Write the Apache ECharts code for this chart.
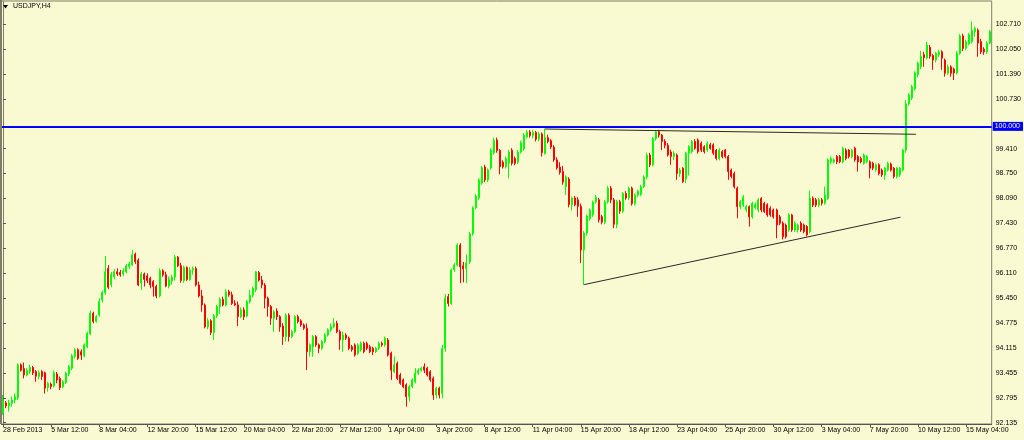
<!DOCTYPE html>
<html>
<head>
<meta charset="utf-8">
<script src="https://cdn.jsdelivr.net/npm/echarts@6/dist/echarts.min.js"></script>
<style>
html,body{margin:0;padding:0;background:#FAFAD2;}
#chart{width:1024px;height:440px;}
</style>
</head>
<body>
<div id="chart"></div>
<script>
// USDJPY H4 candles: [open, close, low, high]
const candles = [
[92.40,92.69,92.34,92.87],[92.66,92.58,92.52,92.71],[92.58,92.65,92.43,92.74],[92.65,92.74,92.56,92.83],[92.74,92.83,92.65,92.91],
[92.80,93.67,92.74,93.71],[93.67,93.53,93.49,93.71],[93.57,93.40,93.31,93.73],[93.40,93.52,93.36,93.58],[93.49,93.60,93.43,93.67],
[93.60,93.46,93.40,93.64],[93.49,93.37,93.22,93.53],[93.36,93.46,93.29,93.52],[93.49,93.36,93.27,93.53],[93.46,93.05,92.91,93.49],
[93.07,93.18,92.96,93.22],[93.16,93.09,93.02,93.20],[93.11,93.46,93.07,93.52],[93.43,93.27,93.18,93.48],[93.31,93.07,93.00,93.36],
[93.09,93.22,93.05,93.27],[93.20,93.45,93.16,93.49],[93.43,93.62,93.37,93.67],[93.58,93.91,93.53,93.96],[93.89,94.07,93.84,94.11],
[94.07,93.84,93.80,94.11],[94.02,93.93,93.80,94.08],[93.91,94.20,93.87,94.24],[94.15,94.51,94.11,94.55],[94.49,95.04,94.46,95.11],
[95.04,94.82,94.77,95.08],[94.82,94.95,94.79,94.99],[94.99,95.35,94.95,95.44],[95.39,95.59,95.32,95.64],[95.59,96.14,95.53,96.56],
[96.23,95.73,95.68,96.32],[95.79,96.08,95.73,96.14],[96.01,96.14,95.94,96.21],[96.14,96.08,96.03,96.23],[96.12,96.06,96.01,96.19],
[96.08,96.17,96.03,96.23],[96.14,96.30,96.10,96.35],[96.28,96.35,96.21,96.41],[96.32,96.59,96.30,96.72],[96.61,96.41,96.35,96.65],
[96.45,95.79,95.76,96.50],[95.84,96.08,95.66,96.14],[96.08,95.94,95.75,96.12],[96.03,95.91,95.84,96.10],[95.97,95.79,95.70,96.01],
[95.88,95.75,95.48,95.92],[95.75,95.50,95.44,95.80],[95.50,96.17,95.46,96.23],[96.17,96.06,96.01,96.21],[96.06,95.76,95.73,96.14],
[95.76,95.94,95.70,96.01],[95.90,96.00,95.80,96.06],[96.00,96.53,95.91,96.59],[96.53,96.30,96.26,96.56],[96.30,95.91,95.85,96.38],
[95.91,96.26,95.85,96.30],[96.26,95.94,95.90,96.28],[95.94,96.19,95.90,96.26],[96.19,96.23,96.06,96.28],[96.23,95.79,95.75,96.28],
[95.79,95.50,95.46,95.88],[95.50,95.26,95.08,95.66],[95.26,94.68,94.64,95.30],[94.68,94.84,94.62,94.91],[94.84,94.53,94.46,94.88],
[94.53,94.97,94.33,95.02],[94.97,95.22,94.91,95.26],[95.22,95.41,95.02,95.46],[95.41,95.26,95.22,95.48],[95.26,95.61,95.22,95.68],
[95.61,95.53,95.48,95.66],[95.53,95.30,95.26,95.61],[95.30,95.26,95.23,95.39],[95.26,94.95,94.70,95.35],[94.95,95.13,94.91,95.20],
[95.13,94.95,94.86,95.20],[94.97,95.35,94.93,95.39],[95.35,95.52,95.30,95.66],[95.52,95.70,95.46,95.75],[95.66,96.14,95.60,96.16],
[96.12,95.92,95.88,96.16],[95.92,95.79,95.70,96.03],[95.79,95.44,95.17,95.84],[95.44,95.22,94.95,95.48],[95.22,94.91,94.73,95.26],
[94.91,95.08,94.55,95.13],[95.10,94.95,94.86,95.17],[94.95,94.68,94.55,94.99],[94.70,94.42,94.20,94.78],[94.42,94.99,94.29,95.04],
[94.99,94.42,94.29,95.04],[94.42,94.55,94.38,94.60],[94.55,94.95,94.51,94.99],[94.95,94.82,94.77,95.00],[94.84,94.73,94.68,94.88],
[94.73,94.64,94.60,94.77],[94.64,94.02,93.53,94.77],[94.02,94.20,93.89,94.24],[94.15,94.42,93.89,94.46],[94.42,94.20,94.15,94.46],
[94.20,94.11,93.98,94.24],[94.11,94.29,94.06,94.33],[94.29,94.46,94.24,94.51],[94.46,94.60,94.42,94.64],[94.60,94.68,94.55,94.77],
[94.68,94.77,94.64,94.91],[94.77,94.55,94.51,94.84],[94.55,94.33,94.07,94.60],[94.33,94.46,94.02,94.55],[94.46,94.38,94.33,94.51],
[94.38,94.11,94.06,94.42],[94.15,94.07,94.02,94.20],[94.20,93.93,93.89,94.24],[93.98,94.20,93.93,94.24],[94.07,94.24,94.02,94.29],
[94.24,94.02,93.98,94.29],[94.24,94.11,94.06,94.29],[94.15,94.02,93.98,94.20],[94.11,94.02,93.93,94.15],[94.02,94.11,93.98,94.15],
[94.11,94.24,94.07,94.29],[94.24,94.20,94.15,94.29],[94.20,94.38,94.15,94.42],[94.33,93.93,93.89,94.38],[93.98,93.53,93.27,94.02],
[93.49,93.67,93.45,93.89],[93.71,93.31,93.27,93.76],[93.40,93.18,93.14,93.45],[93.27,93.09,93.05,93.31],[93.14,92.83,92.56,93.18],
[92.83,93.09,92.69,93.14],[93.09,93.27,93.05,93.31],[93.22,93.45,93.18,93.58],[93.45,93.53,93.40,93.58],[93.53,93.58,93.49,93.62],
[93.62,93.53,93.45,93.71],[93.58,93.40,93.36,93.62],[93.49,93.27,93.22,93.53],[93.31,92.87,92.74,93.36],[92.87,93.05,92.78,93.09],
[93.05,92.87,92.78,93.09],[92.91,94.11,92.78,94.20],[94.11,95.44,94.02,95.55],[95.48,95.30,95.22,95.55],[95.30,96.19,95.26,96.23],
[96.19,96.32,96.14,96.37],[96.32,96.85,96.28,96.90],[96.85,96.27,95.84,96.90],[96.30,96.22,95.86,96.40],[96.22,96.37,95.84,96.60],
[96.40,97.15,96.35,97.20],[97.15,97.84,97.10,97.88],[97.84,98.15,97.80,98.20],[98.10,98.58,98.05,98.62],[98.50,98.90,98.45,98.95],
[98.92,98.58,98.52,98.98],[98.58,98.84,98.52,98.88],[98.90,99.37,98.85,99.42],[99.30,99.64,99.25,99.70],[99.64,99.36,99.30,99.70],
[99.36,98.93,98.73,99.40],[99.05,98.93,98.88,99.10],[98.93,99.15,98.88,99.20],[99.02,99.32,98.62,99.38],[99.37,99.02,98.96,99.42],
[99.15,99.02,98.97,99.20],[99.06,99.32,99.00,99.37],[99.32,99.56,99.28,99.62],[99.40,99.77,99.35,99.82],[99.72,99.85,99.68,99.90],
[99.85,99.76,99.70,99.90],[99.76,99.84,99.68,99.90],[99.84,99.66,99.60,99.88],[99.66,99.80,99.60,99.86],[99.80,99.30,99.20,99.84],
[99.28,99.70,99.25,99.94],[99.70,99.60,99.55,99.78],[99.62,99.45,99.40,99.66],[99.45,99.11,99.06,99.50],[99.11,98.90,98.85,99.18],
[98.92,98.78,98.72,99.05],[98.80,98.52,98.45,98.95],[98.40,98.66,98.18,98.70],[98.60,97.92,97.85,98.65],[97.92,98.10,97.77,98.14],
[98.10,97.92,97.88,98.15],[98.05,97.88,97.60,98.12],[97.88,96.72,96.37,97.95],[96.72,97.17,95.79,97.22],[97.17,97.62,97.10,97.66],
[97.55,97.78,97.50,97.82],[97.65,97.99,97.60,98.03],[97.99,98.12,97.95,98.18],[98.05,97.52,97.45,98.10],[97.60,97.46,97.40,97.65],
[97.46,98.00,97.40,98.05],[98.00,98.36,97.95,98.42],[98.36,98.05,97.96,98.42],[98.05,97.40,97.30,98.10],[97.40,98.00,97.30,98.05],
[98.00,97.75,97.68,98.05],[97.75,98.22,97.70,98.26],[98.22,98.10,98.05,98.28],[98.10,98.36,98.05,98.40],[98.36,97.95,97.90,98.40],
[97.95,98.18,97.90,98.22],[98.18,98.28,98.12,98.32],[98.20,98.40,98.15,98.45],[98.40,98.66,98.36,98.70],[98.66,99.24,98.60,99.30],
[99.24,98.98,98.92,99.30],[98.98,99.68,98.94,99.72],[99.68,99.86,99.62,99.90],[99.86,99.77,99.70,99.91],[99.77,99.60,99.37,99.80],
[99.60,99.50,99.42,99.66],[99.50,99.24,99.20,99.56],[99.32,99.20,98.98,99.38],[99.20,99.28,99.10,99.34],[99.24,98.75,98.58,99.28],
[98.75,98.84,98.66,98.90],[98.89,98.53,98.50,98.92],[98.60,99.29,98.50,99.33],[99.29,99.46,98.70,99.50],[99.33,99.60,99.28,99.64],
[99.60,99.42,99.38,99.66],[99.64,99.33,99.28,99.68],[99.55,99.37,99.32,99.60],[99.46,99.33,99.28,99.50],[99.37,99.55,99.32,99.60],
[99.51,99.42,99.38,99.56],[99.51,99.29,99.24,99.55],[99.37,99.15,99.10,99.40],[99.15,99.37,99.10,99.42],[99.33,99.20,99.15,99.37],
[99.37,99.20,99.15,99.40],[99.20,98.80,98.58,99.24],[98.84,98.67,98.62,98.88],[98.75,98.40,98.35,98.80],[98.36,97.87,97.56,98.40],
[97.87,98.00,97.80,98.05],[97.91,98.13,97.86,98.18],[97.78,97.87,97.72,97.92],[97.87,97.60,97.34,97.90],[97.60,97.96,97.55,98.00],
[97.85,97.92,97.80,97.98],[97.78,98.05,97.72,98.10],[98.09,97.78,97.72,98.12],[97.96,97.74,97.70,98.00],[97.92,97.65,97.60,97.96],
[97.83,97.65,97.60,97.88],[97.78,97.60,97.55,97.82],[97.78,97.38,97.03,97.82],[97.60,97.43,97.38,97.65],[97.43,97.07,97.00,97.48],
[97.38,97.07,97.02,97.42],[97.25,97.65,97.20,97.70],[97.65,97.25,97.20,97.68],[97.25,97.43,97.20,97.48],[97.25,97.38,97.18,97.42],
[97.43,97.25,97.20,97.48],[97.38,97.21,97.16,97.42],[97.34,97.12,97.08,97.38],[97.21,98.09,97.16,98.30],[98.09,97.91,97.86,98.14],
[98.05,97.91,97.86,98.10],[97.91,98.05,97.86,98.10],[98.05,97.96,97.90,98.10],[97.96,98.18,97.92,98.40],[98.09,99.11,98.05,99.15],
[99.06,99.15,99.00,99.20],[99.06,99.11,99.02,99.15],[99.20,99.06,99.00,99.24],[99.20,99.06,99.02,99.24],[99.06,99.42,99.02,99.46],
[99.37,99.15,99.10,99.42],[99.37,99.20,99.15,99.40],[99.20,99.37,99.15,99.40],[99.42,99.11,99.06,99.46],[99.20,99.06,98.80,99.24],
[99.15,99.06,99.02,99.20],[99.02,99.24,98.98,99.28],[99.06,99.20,99.02,99.24],[99.06,98.89,98.62,99.10],[99.02,98.89,98.84,99.06],
[98.84,98.98,98.80,99.02],[98.98,98.75,98.70,99.02],[98.84,98.71,98.66,98.88],[98.71,98.89,98.58,98.92],[98.84,99.02,98.80,99.06],
[99.00,98.84,98.80,99.04],[98.89,98.67,98.62,98.92],[98.67,98.89,98.62,98.92],[98.71,98.89,98.66,98.92],[98.84,99.37,98.80,99.40],
[99.37,100.60,99.30,100.70],[100.60,100.83,100.55,100.88],[100.75,101.05,100.70,101.10],[101.00,101.42,100.95,101.46],[101.37,101.68,101.30,101.72],
[101.58,101.85,101.52,102.00],[101.90,101.82,101.58,101.98],[101.82,102.16,101.78,102.24],[102.10,101.86,101.80,102.16],[101.88,101.76,101.50,101.92],
[101.76,101.94,101.70,101.98],[101.90,101.98,101.84,102.03],[101.98,101.81,101.50,102.02],[101.76,101.41,101.32,101.80],[101.41,101.58,101.36,101.64],
[101.58,101.41,101.32,101.62],[101.52,101.42,101.23,101.56],[101.42,101.94,101.38,102.00],[101.94,102.40,101.90,102.45],[102.40,102.07,102.00,102.46],
[102.07,102.25,102.02,102.30],[102.20,102.43,102.15,102.48],[102.25,102.55,102.20,102.78],[102.52,102.60,102.38,102.65],[102.55,102.21,101.85,102.60],
[102.25,101.98,101.92,102.32],[102.05,101.98,101.90,102.10],[101.98,102.21,101.92,102.26],[102.21,102.52,102.18,102.56]
];

// x-axis tick labels (one every 16 H4 bars)
const xTickLabels = ['28 Feb 2013','5 Mar 12:00','8 Mar 04:00','12 Mar 20:00','15 Mar 12:00','20 Mar 04:00','22 Mar 20:00','27 Mar 12:00','1 Apr 04:00','3 Apr 20:00','8 Apr 12:00','11 Apr 04:00','15 Apr 20:00','18 Apr 12:00','23 Apr 04:00','25 Apr 20:00','30 Apr 12:00','3 May 04:00','7 May 20:00','10 May 12:00','15 May 04:00'];

// y-axis tick labels (price scale on the right)
const yTickValues = [92.135,92.795,93.455,94.115,94.775,95.450,96.110,96.770,97.430,98.090,98.750,99.410,100.730,101.390,102.050,102.710];

// horizontal level and trendlines: [barIndex, price]
const levelPrice = 100.000;
const resistanceLine = [[180.1, 99.93],[303.3, 99.79]];
const supportLine = [[193.1, 95.80],[298.2, 97.59]];

// bar times: H4 bars, weekdays only, starting 28 Feb 2013 20:00
const monthNames = ['Jan','Feb','Mar','Apr','May','Jun','Jul','Aug','Sep','Oct','Nov','Dec'];
const categories = [];
(function(){
  let t = Date.UTC(2013,1,28,20);
  while (categories.length < candles.length) {
    const d = new Date(t);
    const wd = d.getUTCDay();
    if (wd !== 0 && wd !== 6) {
      const hh = String(d.getUTCHours()).padStart(2,'0');
      categories.push(d.getUTCDate()+' '+monthNames[d.getUTCMonth()]+' '+hh+':00');
    }
    t += 4*3600*1000;
  }
})();

const FONT = 'Liberation Sans, Arial, sans-serif';
const chart = echarts.init(document.getElementById('chart'), null, {renderer:'canvas'});
const N = candles.length;
chart.setOption({
  animation: false,
  backgroundColor: '#FAFAD2',
  grid: {left: 1, top: 1, right: 32, bottom: 16, show: true, borderColor: '#7f7e69', borderWidth: 1, backgroundColor: 'transparent'},
  graphic: [
    {type:'line', shape:{x1:1, y1:0, x2:1, y2:424}, style:{stroke:'#7f7e69', lineWidth:2}, z: 100},
    {type:'polygon', shape:{points:[[3,5],[8,5],[5.5,8.5]]}, style:{fill:'#000'}, z: 100},
    {type:'text', left: 13, top: 3, style:{text:'USDJPY,H4', font:'7px '+FONT, fill:'#000'}, z: 100}
  ],
  xAxis: [{
    type: 'category',
    data: categories,
    boundaryGap: true,
    axisLine: {show: true, lineStyle: {color: '#555555', width: 1}},
    axisTick: {show: true, interval: 15, alignWithLabel: true, length: 3, lineStyle: {color: '#555555'}},
    axisLabel: {interval: 15, align: 'left', margin: 3, fontSize: 7, fontFamily: FONT, color: '#000',
      formatter: function(v, i){ return xTickLabels[Math.round(i/16)] || ''; }},
    splitLine: {show: false}
  },{
    type: 'value', min: -0.5, max: N - 0.5, show: false
  }],
  yAxis: {
    type: 'value',
    position: 'right',
    min: 92.100, max: 103.328,
    axisLine: {show: true, lineStyle: {color: '#7f7e69', width: 1}},
    axisTick: {show: true, length: 3, customValues: yTickValues, lineStyle: {color: '#555555'}},
    axisLabel: {customValues: yTickValues, margin: 4, fontSize: 7, fontFamily: FONT, color: '#000',
      formatter: function(v){ return v.toFixed(3); }},
    splitLine: {show: false}
  },
  series: [{
    type: 'candlestick',
    data: candles,
    barWidth: 1.5,
    itemStyle: {color: '#00ff00', color0: '#ff0000', borderColor: '#00ff00', borderColor0: '#ff0000', borderWidth: 1},
    markLine: {
      silent: true, symbol: 'none', animation: false,
      data: [{yAxis: levelPrice}],
      lineStyle: {color: '#0000ff', width: 2, type: 'solid'},
      label: {show: true, position: 'end', distance: 1, formatter: levelPrice.toFixed(3),
        color: '#ffffff', backgroundColor: '#0000ff', fontSize: 7, fontFamily: FONT, padding: [1, 3, 1, 2]}
    }
  },{
    type: 'line', xAxisIndex: 1, data: resistanceLine, symbol: 'none',
    lineStyle: {color: '#2a2a2a', width: 1}, z: 5
  },{
    type: 'line', xAxisIndex: 1, data: supportLine, symbol: 'none',
    lineStyle: {color: '#2a2a2a', width: 1}, z: 5
  }]
});
</script>
</body>
</html>
